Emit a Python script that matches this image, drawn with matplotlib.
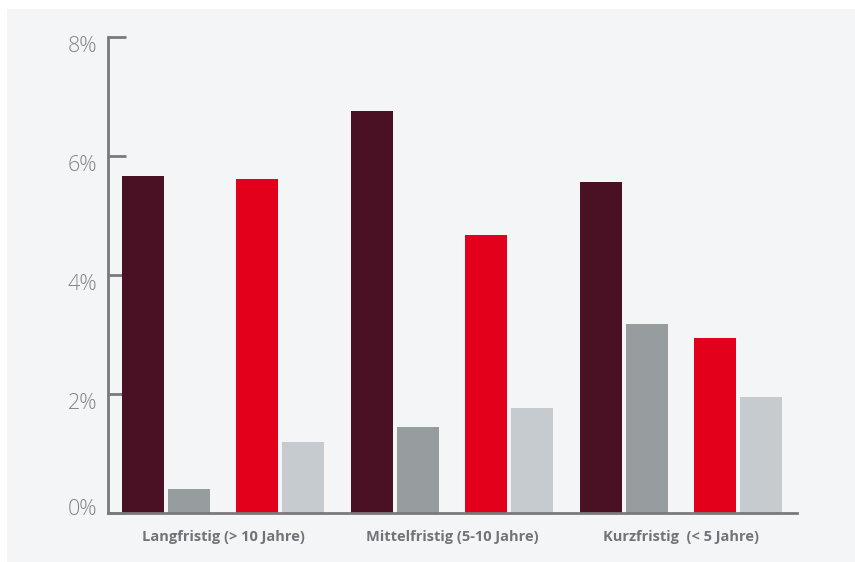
import numpy as np
import matplotlib.pyplot as plt
from matplotlib.patches import Rectangle
from matplotlib.transforms import ScaledTranslation

# Laufzeit-Kategorien und Werte in Prozent
categories = ['Langfristig (> 10 Jahre)', 'Mittelfristig (5-10 Jahre)', 'Kurzfristig  (< 5 Jahre)']
serie_1 = [5.66, 6.76, 5.56]
serie_2 = [0.40, 1.45, 3.18]
serie_3 = [5.61, 4.67, 2.94]
serie_4 = [1.19, 1.76, 1.95]
yticks = [0, 2, 4, 6, 8]
ytick_labels = ['0%', '2%', '4%', '6%', '8%']

colors = ['#4a1024', '#979d9f', '#e2001a', '#c6cbcf']
offsets = [-0.349, -0.148, 0.148, 0.349]
width = 0.183
axis_col = '#7a7a7a'

fig = plt.figure(figsize=(8.55, 5.62), dpi=100)
fig.patch.set_facecolor('white')
# grauer Hintergrund
fig.patches.append(Rectangle((7/855, 0), 1, 1 - 9/562, transform=fig.transFigure,
                             facecolor='#f4f5f7', edgecolor='none', zorder=-5))

ax = fig.add_axes([108/855, 49/562, 689/855, 476/562])
ax.set_facecolor('none')

x = np.arange(len(categories))
for vals, off, c in zip([serie_1, serie_2, serie_3, serie_4], offsets, colors):
    ax.bar(x + off, vals, width=width, color=c, zorder=2)

ax.set_xlim(-0.502, 2.507)
ax.set_ylim(0, 8)

for s in ['top', 'right']:
    ax.spines[s].set_visible(False)
for s in ['left', 'bottom']:
    ax.spines[s].set_color(axis_col)
    ax.spines[s].set_linewidth(2)
    ax.spines[s].set_zorder(3)

ax.set_yticks(yticks)
ax.set_yticklabels(ytick_labels, fontfamily='Open Sans', fontweight='light',
                   fontsize=15.5, color='#858585')
ax.tick_params(axis='y', direction='in', length=13, width=2, color=axis_col, pad=8)
# Prozentwerte unterhalb der Striche, 0% knapp oberhalb der Achse
for i, lbl in enumerate(ax.get_yticklabels()):
    dy = 4 if i == 0 else -5
    lbl.set_transform(lbl.get_transform() + ScaledTranslation(0, dy/72, fig.dpi_scale_trans))

ax.set_xticks(x)
ax.set_xticklabels(categories, fontfamily='Open Sans', fontweight='bold',
                   fontsize=10.5, color='#707478')
ax.tick_params(axis='x', length=0, pad=12)

fig.savefig('out.png', dpi=100, facecolor='white')
